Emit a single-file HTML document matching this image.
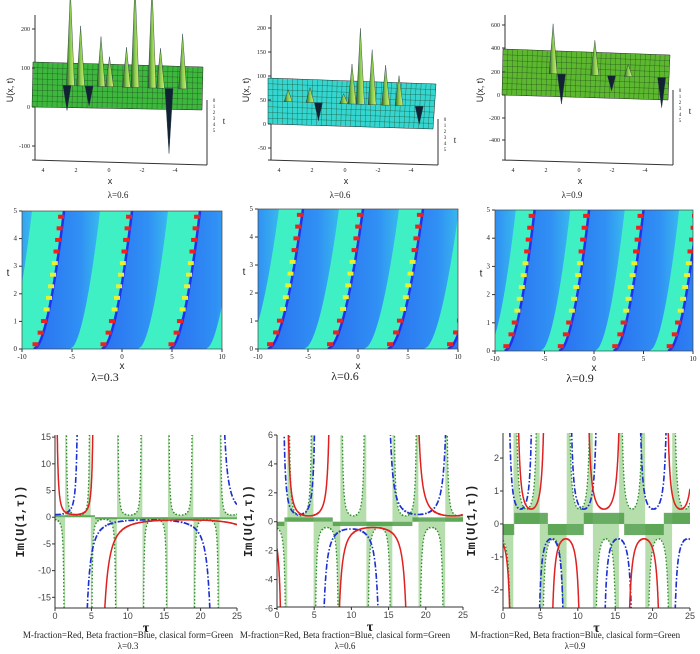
<!DOCTYPE html>
<html><head><meta charset="utf-8"><style>
body{margin:0;background:#fff;}
svg{display:block;font-family:"Liberation Serif",serif;}
</style></head><body>
<svg id="fig" width="700" height="654" viewBox="0 0 700 654">
<defs>
<clipPath id="c1"><rect x="55" y="435" width="182" height="173"/></clipPath>
<clipPath id="c2"><rect x="277" y="435" width="186" height="172"/></clipPath>
<clipPath id="c3"><rect x="503" y="433" width="187" height="175"/></clipPath>
<clipPath id="h1"><rect x="22" y="211" width="200" height="138"/></clipPath>
<clipPath id="h2"><rect x="258" y="209" width="200" height="140"/></clipPath>
<clipPath id="h3"><rect x="495" y="210" width="198" height="141"/></clipPath>
<linearGradient id="bandGrad" x1="0" x2="1" y1="0" y2="0">
<stop offset="0" stop-color="#2a70f0"/><stop offset="0.7" stop-color="#3090f4"/><stop offset="1" stop-color="#38b8ee"/>
</linearGradient>
<linearGradient id="spkGrad" x1="0" x2="1" y1="0" y2="0">
<stop offset="0" stop-color="#2c5a2c"/><stop offset="0.5" stop-color="#8ccf50"/><stop offset="1" stop-color="#d8ec70"/>
</linearGradient>
</defs>
</svg>
<script>
// ---------- data ----------
const surfSpikes1 = [[0.22,95],[0.28,60],[0.33,-20],[0.4,50],[0.55,40],[0.6,105],[0.7,103],[0.75,40],[0.88,55],[0.8,-65],[0.45,30],[0.2,-25]];
const surfSpikes2 = [[0.12,12],[0.25,15],[0.5,40],[0.55,76],[0.62,55],[0.7,40],[0.78,30],[0.3,-18],[0.9,-18],[0.45,10]];
const surfSpikes3 = [[0.3,50],[0.55,35],[0.35,-30],[0.65,-15],[0.95,-30],[0.75,12]];
const bandOffsets1 = [-22.4,-15.6,-8.8,-2,4.8,11.6];
const bandOffsets2 = [-21,-15,-9,-3,3,9];
const bandOffsets3 = [-20,-14.5,-9,-3.5,2,7.5];
const bandShift = [3,3.5,3];
const tauTicks = [0,5,10,15,20,25];
const redAsym1 = [-5,0,5.5,30], redSign1 = -1;
const blueAsym1 = [-3,3.4,22.3,40], blueSign1 = 1;
const greenAsym = [-2.1,1.4,4.9,8.5,12,15.5,19,22.6,26.1], greenSign = -1;
const redAsym2 = [-5.5,1,7.5,18.2,29], redSign2 = -1;
const blueAsym2 = [-5,0.5,5.5,14.4,23.5], blueSign2 = -1;
const redAsym3 = [-3,1.5,6,10.8,16.2,21.5,26], redSign3 = -1;
const blueAsym3 = [-3.5,0.4,4.3,8.6,13,17.8,22.4,27], blueSign3 = -1;
const yTicks1 = [-15,-10,-5,0,5,10,15];
const yTicks2 = [-6,-4,-2,0,2,4,6];
const yTicks3 = [-2,-1,0,1,2];

const NS="http://www.w3.org/2000/svg";
const fig=document.getElementById('fig');
function mk(tag,attrs,parent){const e=document.createElementNS(NS,tag);for(const k in attrs)e.setAttribute(k,attrs[k]);(parent||fig).appendChild(e);return e;}
function txt(x,y,s,size,parent,extra){const t=mk('text',Object.assign({x:x,y:y,'font-size':size,'text-anchor':'middle',fill:'#222'},extra||{}),parent);t.textContent=s;return t;}

// ---------- 3D surfaces ----------
function surface(cfg,spikes,idx){
  const g=mk('g',{});
  
  
  const [a,b,c,d]=cfg.poly;
  mk('line',{x1:cfg.ax,y1:15,x2:cfg.ax,y2:160,stroke:'#333','stroke-width':1},g);
  mk('line',{x1:cfg.ax-3,y1:160,x2:c[0]+5,y2:165,stroke:'#333','stroke-width':1},g);
  mk('polygon',{points:[a,b,c,d].map(p=>p.join(',')).join(' '),fill:cfg.col,stroke:'#222','stroke-width':0.5},g);
  for(let i=1;i<34;i++){const f=i/34;
    mk('line',{x1:a[0]+(b[0]-a[0])*f,y1:a[1]+(b[1]-a[1])*f,x2:d[0]+(c[0]-d[0])*f,y2:d[1]+(c[1]-d[1])*f,stroke:'#1a3a1a','stroke-width':0.5,opacity:0.6},g);}
  for(let i=1;i<8;i++){const f=i/8;
    mk('line',{x1:a[0]+(d[0]-a[0])*f,y1:a[1]+(d[1]-a[1])*f,x2:b[0]+(c[0]-b[0])*f,y2:b[1]+(c[1]-b[1])*f,stroke:'#1a3a1a','stroke-width':0.5,opacity:0.6},g);}
  spikes.forEach(s=>{const x=a[0]+(b[0]-a[0])*s[0];const y0=(a[1]+d[1])/2+ (b[1]-a[1])*s[0];
    const sp=mk('polygon',{points:`${x-4},${y0} ${x},${y0-s[1]} ${x+4},${y0}`,fill:s[1]>0?'url(#spkGrad)':'#123',stroke:'#234','stroke-width':0.4},g);
    
    });
  cfg.yt.forEach(t=>{mk('line',{x1:cfg.ax-3,y1:t[1],x2:cfg.ax,y2:t[1],stroke:'#333'},g);txt(cfg.ax-5,t[1]+2,t[0],6,g,{'text-anchor':'end'});});
  txt(cfg.ax-22,90,'U(x, t)',9,g,{transform:`rotate(-90 ${cfg.ax-22} 90)`,'font-family':'Liberation Sans,sans-serif'});
  const xs=['4','2','0','-2','-4'];xs.forEach((s,i)=>txt(cfg.ax+8+i*33,172,s,6,g));
  txt(cfg.ax+75,184,'x',9,g,{'font-family':'Liberation Sans,sans-serif'});
  mk('line',{x1:c[0]+5,y1:c[1]-10,x2:c[0]+5,y2:165,stroke:'#333'},g);
  ['0','1','2','3','4','5'].forEach((s,i)=>txt(c[0]+12,c[1]-8+i*6,s,5,g));
  txt(c[0]+22,c[1]+14,'t',9,g);
  txt(cfg.lx,198,cfg.lab,9,g);
}
surface({poly:[[33,62],[203,67],[202,110],[32,107]],col:'#3db83d',ax:35,yt:[['200',29],['100',68],['0',107],['-100',146]],lx:118,lab:'λ=0.6'},surfSpikes1,1);
surface({poly:[[268,78],[436,84],[433,129],[268,124]],col:'#35d6d0',ax:271,yt:[['200',28],['150',52],['100',76],['50',100],['0',124],['-50',148]],lx:340,lab:'λ=0.6'},surfSpikes2,2);
surface({poly:[[503,49],[670,55],[668,100],[502,95]],col:'#5cb82e',ax:505,yt:[['600',25],['400',48],['200',72],['0',95],['-200',118],['-400',140]],lx:572,lab:'λ=0.9'},surfSpikes3,3);

// ---------- heatmaps ----------
function heat(box,offs,shift,idx,lab,lx,ly){
  const [x0,y0,w,h]=box;
  const g=mk('g',{});
  
  
  const X=v=>x0+(v+10)/20*w, T=t=>y0+h-t/5*h;
  const inner=mk('g',{'clip-path':`url(#h${idx})`},g);
  mk('rect',{x:x0,y:y0,width:w,height:h,fill:'#3ef0c4'},inner);
  offs.forEach(o=>{
    const edge=t=>o+shift*Math.pow(t/5,0.55);
    let L=[],R=[];for(let t=0;t<=5.01;t+=0.1){L.push([X(edge(t)),T(t)]);R.push([X(edge(t)+3.6),T(t)]);}
    const d='M'+L.map(p=>p.join(',')).join('L')+'L'+R.reverse().map(p=>p.join(',')).join('L')+'Z';
    const b=mk('path',{d:d,fill:'url(#bandGrad)'},inner);
    
    
    mk('path',{d:'M'+L.map(p=>p.join(',')).join('L'),stroke:'#2030f0','stroke-width':2.5,fill:'none'},inner);
    for(let t=0.1;t<5;t+=0.42){const px=X(edge(t))-5,py=T(t);
      mk('rect',{x:px,y:py-4,width:6,height:4,fill:(Math.round(t*10)%2)?'#f02020':'#e8f030'},inner);}
  });
  mk('rect',{x:x0,y:y0,width:w,height:h,fill:'none',stroke:'#444','stroke-width':0.7},g);
  [-10,-5,0,5,10].forEach(v=>{mk('line',{x1:X(v),y1:y0+h,x2:X(v),y2:y0+h+3,stroke:'#333'},g);txt(X(v),y0+h+10,v,7,g);});
  [0,1,2,3,4,5].forEach(v=>{mk('line',{x1:x0-3,y1:T(v),x2:x0,y2:T(v),stroke:'#333'},g);txt(x0-5,T(v)+2,v,7,g,{'text-anchor':'end'});});
  txt(x0+w/2,y0+h+20,'x',10,g,{'font-family':'Liberation Sans,sans-serif'});
  txt(x0-14,y0+h/2-4,'t',10,g,{'font-family':'Liberation Sans,sans-serif'});
  txt(lx,ly,lab,12,g);
}
heat([22,211,200,138],bandOffsets1,bandShift[0],1,'λ=0.3',105,381);
heat([258,209,200,140],bandOffsets2,bandShift[1],2,'λ=0.6',345,380);
heat([495,210,198,141],bandOffsets3,bandShift[2],3,'λ=0.9',580,382);

// ---------- line charts ----------
function secSeries(asym,sign0,m,t){
  for(let i=0;i<asym.length-1;i++){if(t>asym[i]&&t<asym[i+1]){const s=(i%2?-1:1)*sign0;
    const sn=Math.sin(Math.PI*(t-asym[i])/(asym[i+1]-asym[i]));
    return {seg:i,v:s*m/(sn*sn)};}}
  return null;
}
function lineChart(cfg){
  const {x0,y0,w,h,ymin,ymax,idx}=cfg;
  const g=mk('g',{});
  
  
  const X=t=>x0+t/25*w, Y=v=>y0+(ymax-v)/(ymax-ymin)*h;
  const cl=mk('g',{'clip-path':`url(#c${idx})`},g);
  const clampV=v=>Math.max(ymin-1,Math.min(ymax+1,v));
  let segs={};
  for(let t=0;t<=25;t+=0.02){const r=secSeries(cfg.green[0],cfg.green[1],cfg.green[2],t);if(!r)continue;(segs[r.seg]=segs[r.seg]||[]).push([X(t),Y(clampV(r.v))]);}
  Object.values(segs).forEach(p=>{if(p.length<2)return;const d='M'+p[0][0]+','+Y(0)+'L'+p.map(q=>q.join(',')).join('L')+'L'+p[p.length-1][0]+','+Y(0)+'Z';
    const f=mk('path',{d:d,fill:'#a9d89e',opacity:0.85},cl);
    
    });
  const ra=cfg.red[0];
  for(let i=0;i<ra.length-1;i++){const s=(i%2?-1:1)*cfg.red[1];const a=Math.max(0,ra[i]),b=Math.min(25,ra[i+1]);if(b<=a)continue;
    const v=s*cfg.red[2]*0.75;const band=mk('rect',{x:X(a),y:Math.min(Y(0),Y(v)),width:X(b)-X(a),height:Math.abs(Y(v)-Y(0)),fill:'#4f9e48',opacity:0.85},cl);
    
    }
  function series(spec,color,dash,width,name){
    let s={};
    for(let t=0;t<=25;t+=0.01){const r=secSeries(spec[0],spec[1],spec[2],t);if(!r)continue;(s[r.seg]=s[r.seg]||[]).push([X(t),Y(clampV(r.v))]);}
    Object.values(s).forEach(p=>{const l=mk('path',{d:'M'+p.map(q=>q.map(n=>n.toFixed(1)).join(',')).join('L'),stroke:color,'stroke-width':width,fill:'none','stroke-dasharray':dash},cl);
      
      });
  }
  series(cfg.green,'#2a8a2a','1.5,2',1.3,'classical-form-green');
  series(cfg.blue,'#1a2fd0','6,2,1.5,2',1.6,'beta-fraction-blue');
  series(cfg.red,'#e02020','',1.5,'m-fraction-red');
  mk('line',{x1:x0,y1:y0,x2:x0,y2:y0+h,stroke:'#333'},g);
  mk('line',{x1:x0,y1:y0+h,x2:x0+w,y2:y0+h,stroke:'#333'},g);
  tauTicks.forEach(v=>{mk('line',{x1:X(v),y1:y0+h,x2:X(v),y2:y0+h+3,stroke:'#333'},g);txt(X(v),y0+h+11,v,9,g,{fill:'#444','font-family':'Liberation Sans,sans-serif'});});
  cfg.yt.forEach(v=>{mk('line',{x1:x0-3,y1:Y(v),x2:x0,y2:Y(v),stroke:'#333'},g);txt(x0-4,Y(v)+3,v,9,g,{'text-anchor':'end',fill:'#444','font-family':'Liberation Sans,sans-serif'});});
  const yx=x0-cfg.ylo;
  txt(yx,y0+h/2,'Im(U(1,τ))',12,g,{transform:`rotate(-90 ${yx} ${y0+h/2})`,'font-family':'Liberation Mono,monospace','font-weight':'bold'});
  txt(x0+w/2,y0+h+24,'τ',14,g,{'font-weight':'bold'});
  txt(cfg.cx,638,'M-fraction=Red, Beta fraction=Blue, clasical form=Green',9,g);
  txt(cfg.cx,649,cfg.lab,9,g);
}
lineChart({idx:1,x0:55,y0:435,w:182,h:173,ymin:-17,ymax:15.4,red:[redAsym1,redSign1,0.5],blue:[blueAsym1,blueSign1,0.5],green:[greenAsym,greenSign,0.4],yt:yTicks1,ylo:31,cx:128,lab:'λ=0.3'});
lineChart({idx:2,x0:277,y0:435,w:186,h:172,ymin:-5.9,ymax:6,red:[redAsym2,redSign2,0.4],blue:[blueAsym2,blueSign2,0.5],green:[greenAsym,greenSign,0.4],yt:yTicks2,ylo:25,cx:345,lab:'λ=0.6'});
lineChart({idx:3,x0:503,y0:433,w:187,h:175,ymin:-2.55,ymax:2.76,red:[redAsym3,redSign3,0.45],blue:[blueAsym3,blueSign3,0.45],green:[greenAsym,greenSign,0.45],yt:yTicks3,ylo:28,cx:575,lab:'λ=0.9'});
</script>
</body></html>
